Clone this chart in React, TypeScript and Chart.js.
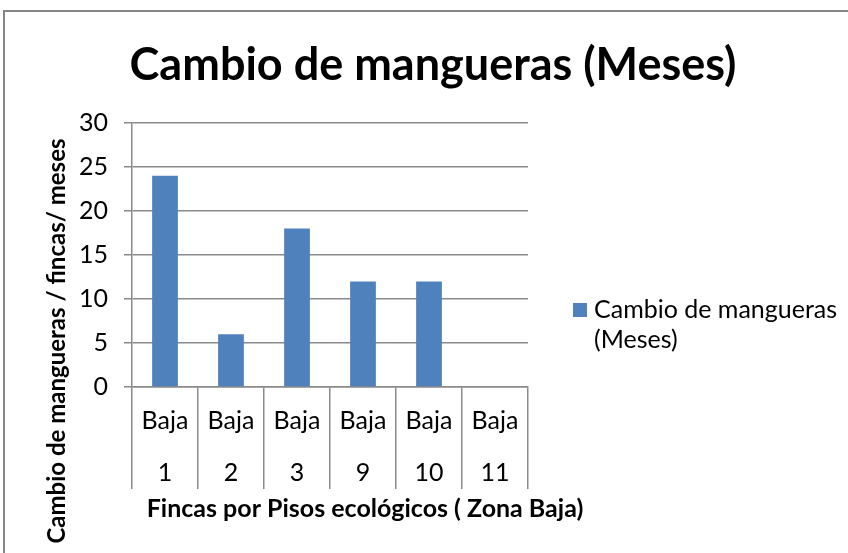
import React, { useEffect, useRef } from "react";
import { Chart, registerables } from "chart.js";

Chart.register(...registerables);

// ---- Data ----
const chartTitle = "Cambio de mangueras (Meses)";
const seriesName = "Cambio de mangueras (Meses)";
const legendLines = ["Cambio de mangueras", "(Meses)"];
const zoneLabels = ["Baja", "Baja", "Baja", "Baja", "Baja", "Baja"];
const fincaNumbers = ["1", "2", "3", "9", "10", "11"];
const values = [24, 6, 18, 12, 12, 0];
const yAxisTitle = "Cambio de mangueras / fincas/ meses";
const xAxisTitle = "Fincas por Pisos ecológicos ( Zona Baja)";
const yMin = 0;
const yMax = 30;
const yStep = 5;

// ---- Styles ----
const FONT = "Lato, 'Open Sans', sans-serif";
const BAR = "#4F81BD";
const GRID = "#8a8a8a";

const decorPlugin = {
  id: "decor",
  afterDraw(chart: any) {
    const ctx = chart.ctx as CanvasRenderingContext2D;
    ctx.save();
    // outer frame
    ctx.strokeStyle = "#868686";
    ctx.lineWidth = 2;
    ctx.strokeRect(4, 11, 900, 700);

    ctx.fillStyle = "#000";
    ctx.textBaseline = "alphabetic";
    ctx.textAlign = "center";
    // chart title
    ctx.font = `bold 45px ${FONT}`;
    ctx.fillText(chartTitle, 433, 80);
    // x axis title
    ctx.font = `bold 25px ${FONT}`;
    ctx.fillText(xAxisTitle, 365, 517);
    // y axis title
    ctx.font = `bold 24px ${FONT}`;
    ctx.save();
    ctx.translate(65, 341);
    ctx.rotate(-Math.PI / 2);
    ctx.fillText(yAxisTitle, 0, 0);
    ctx.restore();

    // legend
    ctx.fillStyle = BAR;
    ctx.fillRect(573, 303, 14, 14);
    ctx.fillStyle = "#000";
    ctx.textAlign = "left";
    ctx.font = `25px ${FONT}`;
    legendLines.forEach((t, i) => ctx.fillText(t, 594, 318 + i * 30));
    ctx.restore();
  },
};

export default function App() {
  const ref = useRef<HTMLCanvasElement | null>(null);

  useEffect(() => {
    if (!ref.current) return;
    const chart = new Chart(ref.current, {
      type: "bar",
      data: {
        labels: zoneLabels.map((z, i) => [z, fincaNumbers[i]]),
        datasets: [
          {
            label: seriesName,
            data: values,
            backgroundColor: BAR,
            borderWidth: 0,
            barPercentage: 0.39,
            categoryPercentage: 1.0,
          },
        ],
      },
      options: {
        animation: false,
        responsive: false,
        devicePixelRatio: 1,
        layout: { padding: { left: 0, top: 123, right: 320, bottom: 0 } },
        plugins: {
          legend: { display: false },
          title: { display: false },
          tooltip: { enabled: false },
        },
        scales: {
          x: {
            offset: true,
            grid: {
              display: true,
              offset: true,
              drawOnChartArea: false,
              drawTicks: true,
              tickLength: 102,
              color: GRID,
              lineWidth: 1.5,
            },
            border: { display: true, color: GRID, width: 1.5 },
            ticks: {
              autoSkip: false,
              maxRotation: 0,
              minRotation: 0,
              padding: -94,
              color: "#000",
              font: { family: FONT, size: 25, lineHeight: 52 / 25 },
            },
            afterFit: (s: any) => {
              s.height = 166;
            },
          },
          y: {
            min: yMin,
            max: yMax,
            ticks: {
              stepSize: yStep,
              padding: 16,
              color: "#000",
              font: { family: FONT, size: 25 },
            },
            grid: { color: GRID, lineWidth: 1.5, tickLength: 8, drawTicks: true },
            border: { display: true, color: GRID, width: 1.5 },
            afterFit: (s: any) => {
              s.width = 132;
            },
          },
        },
      },
      plugins: [decorPlugin],
    });
    return () => chart.destroy();
  }, []);

  return (
    <div style={{ position: "absolute", left: 0, top: 0, width: 848, height: 553, background: "#fff" }}>
      <canvas ref={ref} width={848} height={553} style={{ display: "block" }} />
    </div>
  );
}
